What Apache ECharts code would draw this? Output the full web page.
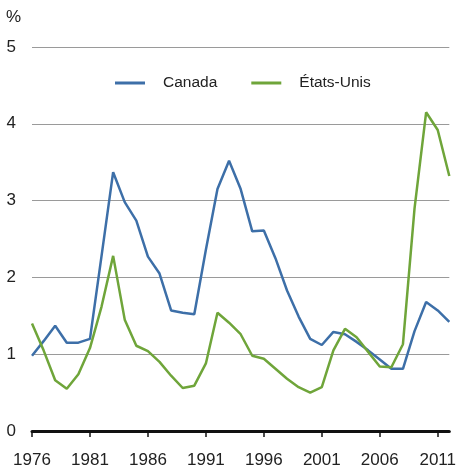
<!DOCTYPE html>
<html>
<head>
<meta charset="utf-8">
<script src="https://cdn.jsdelivr.net/npm/echarts@6/dist/echarts.min.js"></script>
<style>
html,body{margin:0;padding:0;background:#fff;}
#c{width:459px;height:471px;}
</style>
</head>
<body>
<div id="c"></div>
<script>
var years = [];
for (var y = 1976; y <= 2012; y++) years.push(String(y));

var canada = [0.98,1.17,1.37,1.15,1.15,1.20,2.28,3.37,2.98,2.74,2.27,2.05,1.57,1.54,1.52,2.36,3.15,3.52,3.15,2.60,2.61,2.25,1.83,1.49,1.20,1.12,1.29,1.26,1.16,1.05,0.93,0.81,0.81,1.30,1.68,1.57,1.42];
var etatsUnis = [1.40,1.05,0.66,0.55,0.74,1.08,1.62,2.28,1.45,1.11,1.04,0.90,0.72,0.56,0.59,0.88,1.54,1.41,1.26,0.98,0.94,0.81,0.68,0.57,0.50,0.57,1.05,1.33,1.22,1.03,0.84,0.83,1.13,2.90,4.15,3.92,3.32];

var seriesNames = ['Canada', 'États-Unis'];
var colors = ['#3d6fa8', '#6fa53a'];
var font = '"Liberation Sans", Arial, sans-serif';

var chart = echarts.init(document.getElementById('c'), null, {renderer: 'canvas'});
chart.setOption({
  animation: false,
  backgroundColor: '#fff',
  color: colors,
  title: {
    text: '%', left: 1, top: 4,
    textStyle: {fontFamily: font, fontSize: 17, fontWeight: 'normal', color: '#222'}
  },
  legend: {
    data: seriesNames,
    top: 70, left: 110,
    itemWidth: 30, itemHeight: 3, itemGap: 34,
    icon: 'rect',
    textStyle: {fontFamily: font, fontSize: 15.5, color: '#222', padding: [0,0,0,13]}
  },
  grid: {left: 32, right: 8, top: 47, bottom: 40, containLabel: false},
  xAxis: {
    type: 'category',
    data: years,
    boundaryGap: false,
    axisLine: {show: true, lineStyle: {color: '#111', width: 3}},
    axisTick: {show: true, interval: 4, length: 6, lineStyle: {color: '#111', width: 1.5}},
    axisLabel: {interval: 4, fontFamily: font, fontSize: 17, color: '#222', margin: 21},
    splitLine: {show: false}
  },
  yAxis: {
    type: 'value',
    min: 0, max: 5, interval: 1,
    axisLine: {show: false},
    axisTick: {show: false},
    axisLabel: {fontFamily: font, fontSize: 17, color: '#222', margin: 16},
    splitLine: {show: true, lineStyle: {color: '#9a9a9a', width: 1}}
  },
  series: [
    {name: seriesNames[0], type: 'line', data: canada, symbol: 'none', lineStyle: {width: 2.5, color: colors[0]}, itemStyle: {color: colors[0]}},
    {name: seriesNames[1], type: 'line', data: etatsUnis, symbol: 'none', lineStyle: {width: 2.5, color: colors[1]}, itemStyle: {color: colors[1]}}
  ]
});
</script>
</body>
</html>
